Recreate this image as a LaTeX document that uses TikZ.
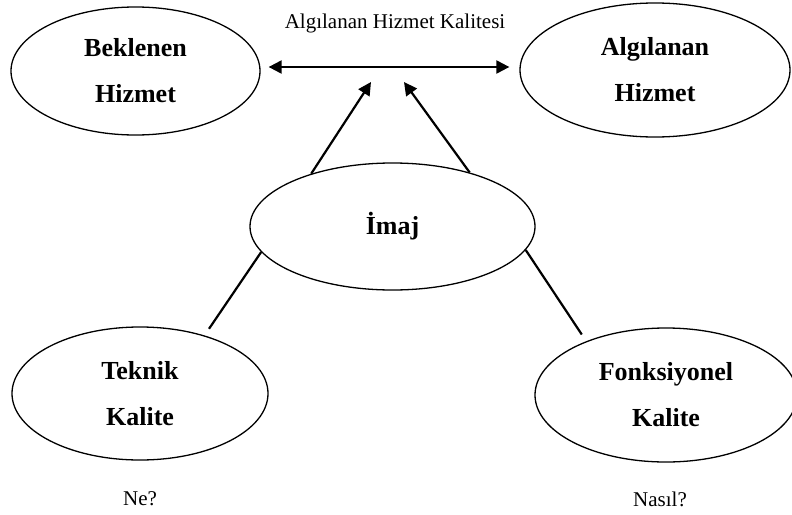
\documentclass[tikz,border=0pt]{standalone}
\usepackage{fontspec}
\setmainfont{Liberation Serif}
\usepackage{tikz}
\usetikzlibrary{shapes.geometric, arrows.meta}
\usepackage{xcolor}
\definecolor{inkCol}{HTML}{000000}
\definecolor{paperCol}{HTML}{FFFFFF}

\begin{document}
\begin{tikzpicture}[
    x=1pt, y=-1pt,
    oval/.style={ellipse, draw=inkCol, fill=paperCol, line width=1.3pt, inner sep=0pt, text centered, align=center, font=\fontsize{26}{46}\selectfont\bfseries},
    note/.style={font=\fontsize{21}{25}\selectfont, text=inkCol, inner sep=0pt},
    link/.style={line width=2.2pt, draw=inkCol},
    dbl/.style={link, {Triangle[length=13pt, width=13pt]}-{Triangle[length=13pt, width=13pt]}},
    up/.style={link, -{Triangle[length=13pt, width=13pt]}}
]
\useasboundingbox[fill=paperCol] (0,0) rectangle (792,514);

% =====================================================================
% TOP ROW: EXPECTED / PERCEIVED SERVICE
% =====================================================================
\node[oval, minimum width=249pt, minimum height=128pt] (BEK) at (135.5, 71) {Beklenen\\Hizmet};
\node[oval, minimum width=270pt, minimum height=134pt] (ALG) at (655, 70) {Algılanan\\Hizmet};
\node[note] (KAL) at (395, 23) {Algılanan Hizmet Kalitesi};

% =====================================================================
% MIDDLE: IMAGE
% =====================================================================
\node[oval, minimum width=285pt, minimum height=127pt] (IMAJ) at (392.5, 226.5) {İmaj};
\coordinate (tipL) at (371, 82);
\coordinate (tipR) at (404, 82);

% =====================================================================
% BOTTOM ROW: TECHNICAL / FUNCTIONAL QUALITY
% =====================================================================
\node[oval, minimum width=256pt, minimum height=133pt] (TEK) at (140, 393.5) {Teknik\\Kalite};
\node[oval, minimum width=262pt, minimum height=134pt] (FON) at (666, 395) {Fonksiyonel\\Kalite};
\node[note] (NE) at (140, 499) {Ne?};
\node[note] (NASIL) at (660, 499) {Nasıl?};

% =====================================================================
% EDGES
% =====================================================================
\draw[dbl, shorten <=8pt, shorten >=10pt] ([yshift=4pt]BEK.east) -- ([yshift=3pt]ALG.west);
\draw[up] (IMAJ.147) -- (tipL);
\draw[up] (IMAJ.35) -- (tipR);
\draw[link, shorten >=8pt] (IMAJ.191) -- (TEK.42);
\draw[link, shorten >=8pt] (IMAJ.-10) -- (FON.146);

\end{tikzpicture}
\end{document}
